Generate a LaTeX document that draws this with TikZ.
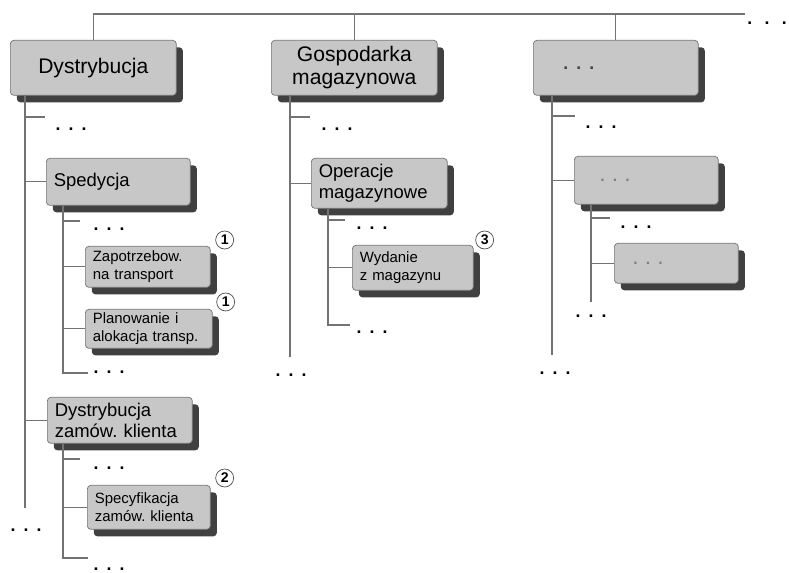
\documentclass[tikz,border=0pt]{standalone}
\usepackage{fontspec}
\setmainfont{Liberation Sans}
\usetikzlibrary{shadows}
\usetikzlibrary{positioning}
\frenchspacing

\newcommand{\kropki}{.\hspace{4.6pt}.\hspace{4.6pt}.}

\begin{document}
\begin{tikzpicture}[
x=0.02cm, y=-0.02cm,
boxnode/.style={rectangle, rounded corners=2pt, draw=black!55, fill=black!22, thin, anchor=north west, drop shadow={shadow xshift=0.13cm, shadow yshift=-0.14cm, fill=black!75, opacity=1}},
topnode/.style={boxnode, font=\fontsize{12}{13}\selectfont, minimum width=3.32cm, minimum height=1.1cm, align=center},
midnode/.style={boxnode, font=\fontsize{10.5}{12}\selectfont, inner ysep=2pt, inner xsep=0.15cm, align=left},
leafnode/.style={boxnode, font=\fontsize{8.5}{10.5}\selectfont, inner ysep=1pt, inner xsep=0.15cm, align=left},
badgenode/.style={circle, draw=black!70, fill=white, inner sep=0pt, minimum size=0.36cm, font=\fontsize{8}{8}\bfseries\selectfont},
dotsnode/.style={font=\bfseries\fontsize{10}{10}\selectfont, inner sep=0pt},
treeline/.style={draw=black!55, line width=0.6pt},
]
\useasboundingbox (0,0) rectangle (789,573);

%Nodes
\node[topnode]  (dystrybucja_node) at (10,40)  {Dystrybucja};
\node[topnode]  (gospodarka_node)  at (271,40) {Gospodarka\\magazynowa};
\node[topnode, minimum width=3.3cm, inner xsep=0.6cm, text width=2.1cm, align=left, font=\bfseries\fontsize{10}{10}\selectfont, text=black!75] (trzecia_node) at (533,40) {\kropki};

\node[midnode, minimum height=0.94cm, text width=2.58cm] (spedycja_node)  at (46,158) {Spedycja};
\node[midnode, minimum height=0.92cm, text width=2.6cm]  (dystr_zam_node) at (47,397) {Dystrybucja\\zamów. klienta};
\node[midnode, minimum height=1.0cm, text width=2.42cm]  (operacje_node)  at (311,158) {Operacje\\magazynowe};
\node[midnode, minimum height=0.96cm, inner xsep=0.52cm, text width=1.84cm, font=\bfseries\fontsize{9}{9}\selectfont, text=black!50] (mid_dots_node) at (574,156) {\kropki};

\node[leafnode, minimum height=0.82cm, text width=2.2cm]  (zapotrz_node)    at (85,246)  {Zapotrzebow.\\na transport};
\node[leafnode, minimum height=0.78cm, text width=2.24cm] (planowanie_node) at (85,309)  {Planowanie i\\alokacja transp.};
\node[leafnode, minimum height=0.88cm, text width=2.16cm] (specyf_node)     at (87,485)  {Specyfikacja\\zamów. klienta};
\node[leafnode, minimum height=0.9cm, text width=2.12cm]  (wydanie_node)    at (352,245) {Wydanie\\z magazynu};
\node[leafnode, minimum height=0.8cm, inner xsep=0.38cm, text width=1.72cm, font=\bfseries\fontsize{9}{9}\selectfont, text=black!50] (leaf_dots_node) at (614,243) {\kropki};

%Badges
\node[badgenode] (badge_zapotrz)    at ([shift={(14,-6)}]zapotrz_node.north east)    {1};
\node[badgenode] (badge_planowanie) at ([shift={(13,-7)}]planowanie_node.north east) {1};
\node[badgenode] (badge_specyf)     at ([shift={(14,-7)}]specyf_node.north east)     {2};
\node[badgenode] (badge_wydanie)    at ([shift={(11,-5)}]wydanie_node.north east)    {3};

%Dots
\node[dotsnode, anchor=east] (dots_top) at (787,23) {.\hspace{7pt}.\hspace{7pt}.};
\node[dotsnode] (dots_dys_a)  at (71,129)  {\kropki};
\node[dotsnode] (dots_dys_z)  at (26,530)  {\kropki};
\node[dotsnode] (dots_sped_a) at (109,229) {\kropki};
\node[dotsnode] (dots_sped_z) at (109,372) {\kropki};
\node[dotsnode] (dots_zam_a)  at (109,468) {\kropki};
\node[dotsnode] (dots_zam_z)  at (109,569) {\kropki};
\node[dotsnode] (dots_gos_a)  at (337,129) {\kropki};
\node[dotsnode] (dots_gos_z)  at (291,375) {\kropki};
\node[dotsnode] (dots_ope_a)  at (372,228) {\kropki};
\node[dotsnode] (dots_ope_z)  at (372,332) {\kropki};
\node[dotsnode] (dots_trz_a)  at (601,127) {\kropki};
\node[dotsnode] (dots_trz_z)  at (555,373) {\kropki};
\node[dotsnode] (dots_sub_a)  at (636,227) {\kropki};
\node[dotsnode] (dots_sub_z)  at (591,316) {\kropki};

%Lines
\coordinate (top_end) at (745,14);
\draw[treeline] (dystrybucja_node.north) |- (top_end);
\draw[treeline] (gospodarka_node.north) -- (gospodarka_node.north |- top_end);
\draw[treeline] (trzecia_node.north) -- (trzecia_node.north |- top_end);

% Dystrybucja
\coordinate (dys_trunk_end) at (25,508);
\coordinate (dys_stub) at (45,117);
\draw[treeline] (dys_trunk_end |- dystrybucja_node.south) -- (dys_trunk_end);
\draw[treeline] (dys_trunk_end |- dys_stub) -- (dys_stub);
\draw[treeline] (dys_trunk_end |- spedycja_node.west) -- (spedycja_node.west);
\draw[treeline] (dys_trunk_end |- dystr_zam_node.west) -- (dystr_zam_node.west);

\coordinate (sped_corner) at (63,373);
\coordinate (sped_end) at (88,373);
\coordinate (sped_stub) at (80,221);
\draw[treeline] (sped_corner |- spedycja_node.south) -- (sped_corner) -- (sped_end);
\draw[treeline] (sped_corner |- sped_stub) -- (sped_stub);
\draw[treeline] (sped_corner |- zapotrz_node.west) -- (zapotrz_node.west);
\draw[treeline] (sped_corner |- planowanie_node.west) -- (planowanie_node.west);

\coordinate (zam_corner) at (63,558);
\coordinate (zam_end) at (88,558);
\coordinate (zam_stub) at (80,459);
\draw[treeline] (zam_corner |- dystr_zam_node.south) -- (zam_corner) -- (zam_end);
\draw[treeline] (zam_corner |- zam_stub) -- (zam_stub);
\draw[treeline] (zam_corner |- specyf_node.west) -- (specyf_node.west);

% Gospodarka magazynowa
\coordinate (gos_trunk_end) at (290,357);
\coordinate (gos_stub) at (310,117);
\draw[treeline] (gos_trunk_end |- gospodarka_node.south) -- (gos_trunk_end);
\draw[treeline] (gos_trunk_end |- gos_stub) -- (gos_stub);
\draw[treeline] (gos_trunk_end |- operacje_node.west) -- (operacje_node.west);

\coordinate (ope_corner) at (328,325);
\coordinate (ope_end) at (350,325);
\coordinate (ope_stub) at (345,220);
\draw[treeline] (ope_corner |- operacje_node.south) -- (ope_corner) -- (ope_end);
\draw[treeline] (ope_corner |- ope_stub) -- (ope_stub);
\draw[treeline] (ope_corner |- wydanie_node.west) -- (wydanie_node.west);

% trzecia kolumna
\coordinate (trz_trunk_end) at (552,355);
\coordinate (trz_stub) at (575,116);
\draw[treeline] (trz_trunk_end |- trzecia_node.south) -- (trz_trunk_end);
\draw[treeline] (trz_trunk_end |- trz_stub) -- (trz_stub);
\draw[treeline] (trz_trunk_end |- mid_dots_node.west) -- (mid_dots_node.west);

\coordinate (sub_end) at (591,302);
\coordinate (sub_stub) at (610,218);
\draw[treeline] (sub_end |- mid_dots_node.south) -- (sub_end);
\draw[treeline] (sub_end |- sub_stub) -- (sub_stub);
\draw[treeline] (sub_end |- leaf_dots_node.west) -- (leaf_dots_node.west);

\end{tikzpicture}
\end{document}
